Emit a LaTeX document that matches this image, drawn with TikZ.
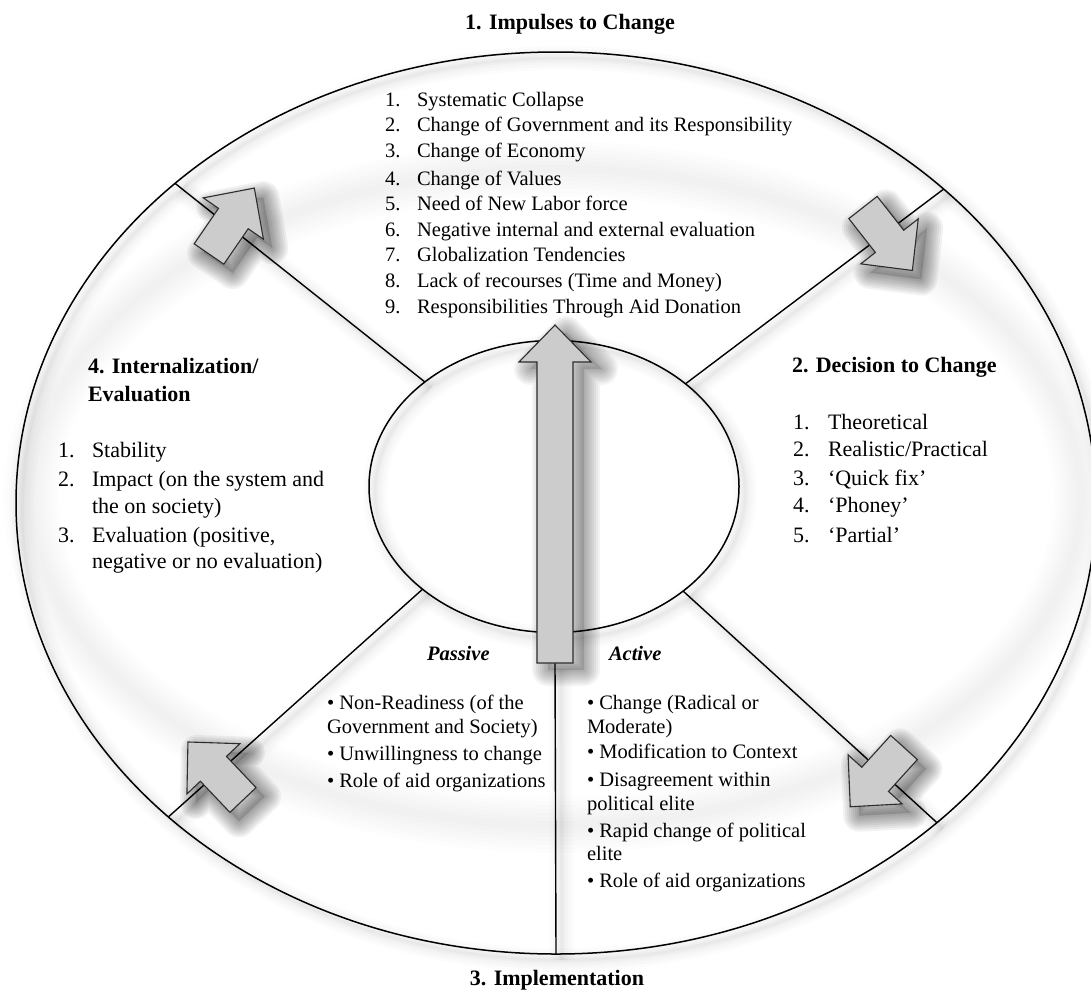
\documentclass[tikz,border=0pt]{standalone}
\usepackage{fontspec}
\setmainfont{Liberation Serif}
\usetikzlibrary{shapes.geometric}
\definecolor{arrowfill}{RGB}{204,204,204}
\definecolor{arrowline}{RGB}{45,45,45}
\newcommand{\fsA}{\fontsize{20.5}{25}\selectfont}
\newcommand{\fsB}{\fontsize{22}{27}\selectfont}
\tikzset{
  pics/cycshadow/.style={code={
    \fill[black, opacity=0.14]
        (0,-18) -- (43,-18) -- (43,-36.5) -- (80,0) -- (43,36.5) -- (43,18) -- (0,18) -- cycle;
    \foreach \w in {32,28,24,20,16,12,8,4}{
      \draw[black, draw opacity=0.05, line width=\w pt, line join=round]
        (0,-18) -- (43,-18) -- (43,-36.5) -- (80,0) -- (43,36.5) -- (43,18) -- (0,18) -- cycle;}
  }},
  pics/cycarrow/.style={code={
    \filldraw[fill=arrowfill, draw=arrowline, line width=1.1pt, line join=miter]
      (0,-18) -- (43,-18) -- (43,-36.5) -- (80,0) -- (43,36.5) -- (43,18) -- (0,18) -- cycle;
  }}
}
\begin{document}
\begin{tikzpicture}[x=1pt,y=-1pt,
  every node/.style={inner sep=0pt, outer sep=0pt},
  txtA/.style={anchor=base west, font=\fsA},
  txtB/.style={anchor=base west, font=\fsB},
  hd/.style={anchor=base west, font=\fsB\bfseries},
  hdc/.style={anchor=base, font=\fsB\bfseries},
  subhd/.style={anchor=base west, font=\fsA\bfseries\itshape},
  shdw/.style={
    preaction={draw=black, draw opacity=0.012, line width=24pt, transform canvas={shift={(6,6)}}},
    preaction={draw=black, draw opacity=0.014, line width=18pt, transform canvas={shift={(6,6)}}},
    preaction={draw=black, draw opacity=0.016, line width=12pt, transform canvas={shift={(6,6)}}},
    preaction={draw=black, draw opacity=0.02, line width=7pt, transform canvas={shift={(6,6)}}},
    preaction={draw=black, draw opacity=0.025, line width=3pt, transform canvas={shift={(6,6)}}}},
  ringline/.style={draw=black, line width=1.5pt},
  spoke/.style={draw=black, line width=1.4pt},
  bigarr/.style={fill=arrowfill, draw=arrowline, line width=1.1pt, line join=miter}
]
\useasboundingbox (0,0) rectangle (1091,991);
\fill[white] (0,0) rectangle (1091,991);

% faint halo ring
\foreach \w in {56,48,40,32,24,16,8}{
  \draw[black, line width=\w pt, draw opacity=0.009] (556,497) ellipse [x radius=525, y radius=328];}

% ellipses
\node[ellipse, ringline, shdw, minimum width=1080pt, minimum height=902pt] (outer) at (556,503) {};
\node[ellipse, ringline, shdw, minimum width=370pt, minimum height=292pt] (inner) at (554,486.5) {};

% spokes
\draw[spoke, shdw] (inner.141.4) -- (outer.140.4);
\draw[spoke, shdw] (inner.38.6) -- (outer.39.4);
\draw[spoke, shdw] (inner.218.6) -- (outer.219.8);
\draw[spoke, shdw] (inner.321.4) -- (outer.320.4);
\coordinate (bigtail) at (555,663);
\draw[spoke, shdw] (bigtail) -- (outer.south);

% cycle arrows
\pic[rotate=55.5] at (218,263) {cycshadow};
\pic[rotate=55.5] at (209,254) {cycarrow};
\pic[rotate=-51.9] at (872,216.5) {cycshadow};
\pic[rotate=-51.9] at (863,207.5) {cycarrow};
\pic[rotate=-132.2] at (913,756.5) {cycshadow};
\pic[rotate=-132.2] at (904,747.5) {cycarrow};
\pic[rotate=133.5] at (252,809) {cycshadow};
\pic[rotate=133.5] at (243,800) {cycarrow};

% big central arrow
\fill[black, opacity=0.12, shift={(11,7)}]
    (537,663) -- (537,362) -- (519,362) -- (555,325) -- (591,362) -- (573,362) -- (573,663) -- cycle;
\foreach \w in {32,28,24,20,16,12,8,4}{
  \draw[black, draw opacity=0.045, line width=\w pt, line join=round, shift={(11,7)}]
    (537,663) -- (537,362) -- (519,362) -- (555,325) -- (591,362) -- (573,362) -- (573,663) -- cycle;}
\filldraw[bigarr] (537,663) -- (537,362) -- (519,362) -- (555,325) -- (591,362) -- (573,362) -- (573,663) -- cycle;

% titles
\node[hdc] (title1) at (570,29) {1. Impulses to Change};
\node[hdc] (title3) at (557,985) {3. Implementation};

% section 1 list
\foreach \n/\t/\y in {1/Systematic Collapse/106, 2/Change of Government and its Responsibility/131.5,
  3/Change of Economy/157, 4/Change of Values/185, 5/Need of New Labor force/210,
  6/Negative internal and external evaluation/236, 7/Globalization Tendencies/261,
  8/Lack of recourses (Time and Money)/287, 9/Responsibilities Through Aid Donation/313}{
  \node[txtA] (sAn\n) at (385,\y) {\n.};
  \node[txtA] (sAt\n) at (417,\y) {\t};}

% section 2
\node[hd] (h2) at (792,372) {2. Decision to Change};
\node[txtB] (sBn1) at (793,429) {1.};  \node[txtB] (sBt1) at (828,429) {Theoretical};
\node[txtB] (sBn2) at (793,456) {2.};  \node[txtB] (sBt2) at (828,456) {Realistic/Practical};
\node[txtB] (sBn3) at (793,485) {3.};  \node[txtB] (sBt3) at (828,485) {‘Quick fix’};
\node[txtB] (sBn4) at (793,512) {4.};  \node[txtB] (sBt4) at (828,512) {‘Phoney’};
\node[txtB] (sBn5) at (793,542) {5.};  \node[txtB] (sBt5) at (828,542) {‘Partial’};

% section 4
\node[hd] (h4a) at (88,373) {4. Internalization/};
\node[hd] (h4b) at (88,401) {Evaluation};
\node[txtB] (sDn1) at (58,457) {1.};  \node[txtB] (sDt1) at (92,457) {Stability};
\node[txtB] (sDn2) at (58,486) {2.};  \node[txtB] (sDt2) at (92,486) {Impact (on the system and};
\node[txtB] (sDt2b) at (92,513) {the on society)};
\node[txtB] (sDn3) at (58,542) {3.};  \node[txtB] (sDt3) at (92,542) {Evaluation (positive,};
\node[txtB] (sDt3b) at (92,568) {negative or no evaluation)};

% section 3: passive / active
\node[subhd] (hpas) at (427,660) {Passive};
\node[subhd] (hact) at (609,660) {Active};
\node[txtA] (p1) at (327,709) {• Non-Readiness (of the};
\node[txtA] (p1b) at (327,733) {Government and Society)};
\node[txtA] (p2) at (327,760) {• Unwillingness to change};
\node[txtA] (p3) at (327,787) {• Role of aid organizations};
\node[txtA] (a1) at (587,709) {• Change (Radical or};
\node[txtA] (a1b) at (587,733) {Moderate)};
\node[txtA] (a2) at (587,758) {• Modification to Context};
\node[txtA] (a3) at (587,786) {• Disagreement within};
\node[txtA] (a3b) at (587,810) {political elite};
\node[txtA] (a4) at (587,837) {• Rapid change of political};
\node[txtA] (a4b) at (587,860) {elite};
\node[txtA] (a5) at (587,887) {• Role of aid organizations};
\end{tikzpicture}
\end{document}
